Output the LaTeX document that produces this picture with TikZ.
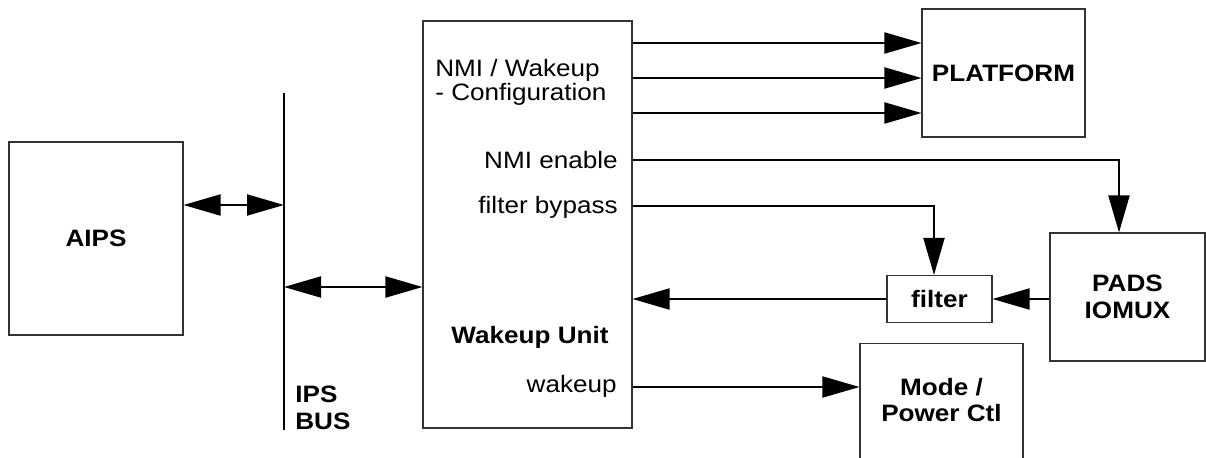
\documentclass[tikz,border=0pt]{standalone}
\usepackage{fontspec}
\setmainfont{Liberation Sans}[FakeStretch=1.1]
\usetikzlibrary{arrows.meta}

\tikzset{
  blk/.style={draw=black!80, line width=0.6pt, inner sep=0pt},
  lbl/.style={font=\fontsize{13.5pt}{15pt}\selectfont, align=center, inner sep=0pt},
  bld/.style={lbl, font=\fontsize{13.5pt}{15pt}\selectfont\bfseries},
  sig/.style={line width=1.1pt, -{Triangle[length=0.74cm,width=0.42cm]}},
  dbl/.style={line width=1.1pt, {Triangle[length=0.74cm,width=0.42cm]}-{Triangle[length=0.74cm,width=0.42cm]}},
}

\begin{document}
\begin{tikzpicture}
\useasboundingbox (0,0) rectangle (24.12,9.14);

\node[blk, bld, minimum width=3.48cm, minimum height=3.86cm] (aips) at (1.92,4.37) {AIPS};

\coordinate (bustop) at (5.68,7.28);
\coordinate (busbot) at (5.68,0.54);
\draw[line width=1.7pt] (bustop) -- (busbot);
\node[bld, align=left, anchor=west] (ipsbus) at (5.90,0.98) {IPS\\BUS};

\node[blk, minimum width=4.18cm, minimum height=8.14cm] (wu) at (10.55,4.65) {};
\node[lbl, align=left, anchor=west, font=\fontsize{13.5pt}{10.4pt}\selectfont] (cfg) at (8.70,7.50) {NMI / Wakeup\\- Configuration};
\node[lbl, anchor=east] (nmien) at (12.36,5.94) {NMI enable};
\node[lbl, anchor=east] (bypass) at (12.36,5.00) {filter bypass};
\node[bld] (wutitle) at (10.60,2.40) {Wakeup Unit};
\node[lbl, anchor=east] (wkup) at (12.34,1.42) {wakeup};

\node[blk, bld, minimum width=3.26cm, minimum height=2.56cm] (plat) at (20.07,7.68) {PLATFORM};
\node[blk, bld, minimum width=3.10cm, minimum height=2.56cm] (pads) at (22.55,3.20) {PADS\\IOMUX};
\node[blk, bld, minimum width=2.10cm, minimum height=0.94cm] (filt) at (18.79,3.16) {filter};
\node[blk, minimum width=3.26cm, minimum height=2.70cm, anchor=north] (mode) at (18.83,2.28) {};
\node[bld] (modetxt) at (18.83,1.14) {Mode /\\Power Ctl};

\draw[dbl] ([yshift=0.67cm]aips.east) -- ([yshift=0.67cm]aips.east -| bustop);
\draw[dbl] (bustop |- 0,3.40) -- (wu.west |- 0,3.40);

\foreach \y in {8.28,7.58,6.88}
  \draw[sig] (wu.east |- 0,\y) -- (plat.west |- 0,\y);

\draw[sig] (wu.east |- 0,5.94) -| ([xshift=-0.17cm]pads.north);
\draw[sig] (wu.east |- 0,5.02) -| ([xshift=-0.11cm]filt.north);
\draw[sig] (pads.west |- filt.east) -- (filt.east);
\draw[sig] (filt.west) -- (wu.east |- filt.west);
\draw[sig] (wu.east |- 0,1.40) -- (mode.west |- 0,1.40);
\end{tikzpicture}
\end{document}
